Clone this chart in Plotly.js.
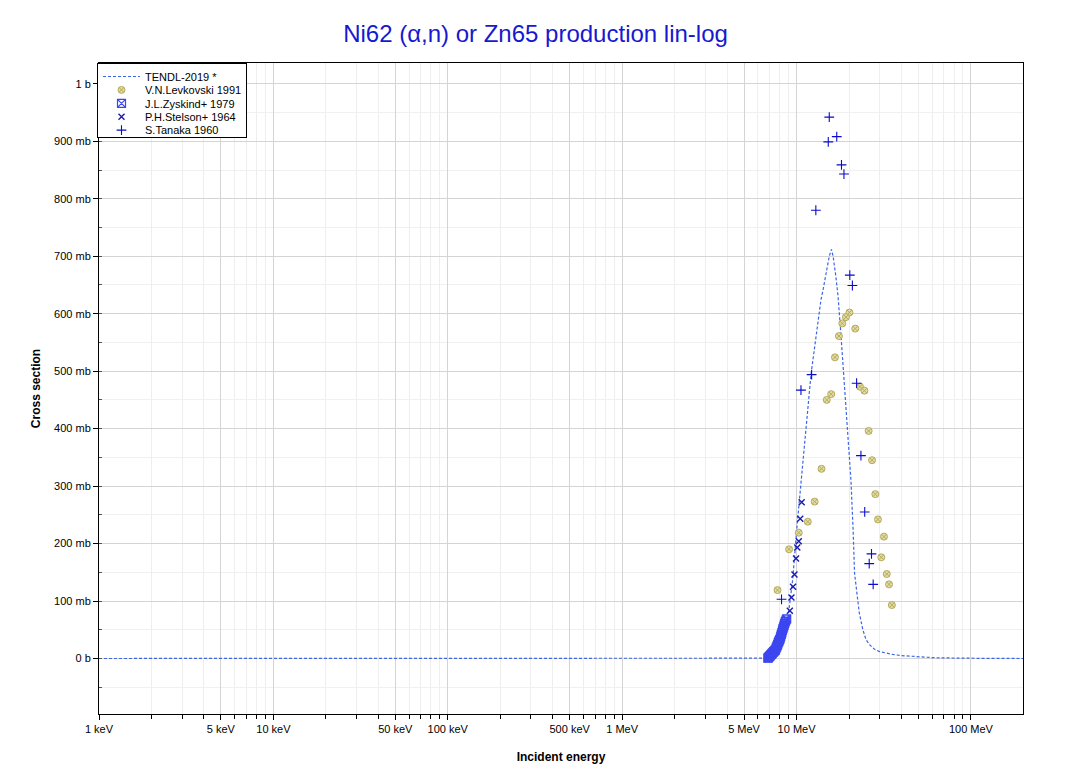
<!DOCTYPE html>
<html>
<head>
<meta charset="utf-8">
<script src="https://cdn.plot.ly/plotly-3.0.1.min.js"></script>
<style>html,body{margin:0;padding:0;background:#fff;}#chart{width:1071px;height:773px;}</style>
</head>
<body>
<div id="chart"></div>
<script>
// Energies in MeV, cross sections in mb
const tendlE = [0.001, 0.01, 0.1, 1, 5, 6.5, 6.7, 7.0, 7.5, 8.0, 8.5, 8.9, 9.5, 10.1, 10.6, 11.4, 12.1, 13.0, 13.8, 14.2, 14.9, 15.4, 15.85, 16.2, 16.8, 17.3, 18.0, 18.9, 19.8, 20.5, 21.1, 21.5, 22.3, 22.9, 24.0, 25.0, 26.2, 28.0, 29.9, 32.5, 35.6, 40.0, 44.4, 50.7, 60.0, 70.0, 86.0, 120.0, 200.0];
const tendlS = [0, 0, 0, 0, 0, 0, 0.5, 3, 10, 22, 45, 68, 137, 236, 305, 410, 494, 565, 624, 642, 677, 700, 712, 700, 665, 630, 560, 468, 380, 311, 224, 149, 108, 79, 50, 33, 24, 16, 12, 9, 7, 5, 4, 2.3, 1.5, 1.0, 0.5, 0.2, 0];

const levE = [20.1, 19.2, 18.3, 21.7, 17.5, 16.6, 15.8, 14.9, 23.1, 24.5, 25.9, 27.1, 13.9, 28.3, 12.7, 29.3, 11.6, 31.7, 10.3, 9.06, 30.6, 32.9, 33.9, 7.78, 35.2];
const levS = [602, 594, 583, 574, 561, 524, 460, 450, 473, 466, 396, 345, 330, 286, 273, 242, 238, 212, 219, 190, 176, 147, 129, 119, 93];

const zysE = [6.85, 6.88, 6.92, 6.96, 7.01, 7.05, 7.10, 7.16, 7.20, 7.25, 7.30, 7.36, 7.41, 7.46, 7.52, 7.57, 7.63, 7.68, 7.73, 7.79, 7.84, 7.90, 7.95, 8.01, 8.07, 8.12, 8.18, 8.24, 8.30, 8.36, 8.42, 8.49, 8.55, 8.62, 8.70, 8.78];
const zysS = [0.5, 1, 2, 3, 3.5, 5, 6, 7, 7.5, 9, 10, 11, 12, 13, 14, 15, 18, 20, 22, 24, 27, 29, 31, 33, 36, 39, 42, 45, 49, 52, 55, 58, 61, 64, 67, 69];

const steE = [10.7, 10.5, 10.3, 10.1, 9.93, 9.73, 9.55, 9.35, 9.15];
const steS = [272, 243, 204, 193, 174, 146, 125, 106, 83];

const tanE = [15.4, 17.0, 15.2, 18.1, 18.7, 12.9, 20.2, 20.9, 12.2, 10.6, 22.1, 23.4, 24.6, 26.9, 26.1, 27.5, 8.2];
const tanS = [942, 908, 899, 859, 843, 780, 667, 649, 494, 467, 479, 353, 255, 182, 165, 129, 103];

const xMajorVals = [0.001, 0.005, 0.01, 0.05, 0.1, 0.5, 1, 5, 10, 100];
const xMajorText = ['1 keV', '5 keV', '10 keV', '50 keV', '100 keV', '500 keV', '1 MeV', '5 MeV', '10 MeV', '100 MeV'];
const xMinorVals = [0.002,0.003,0.004,0.006,0.007,0.008,0.009,
                    0.02,0.03,0.04,0.06,0.07,0.08,0.09,
                    0.2,0.3,0.4,0.6,0.7,0.8,0.9,
                    2,3,4,6,7,8,9,
                    20,30,40,50,60,70,80,90,200];
const yTickVals = [0, 100, 200, 300, 400, 500, 600, 700, 800, 900, 1000];
const yTickText = ['0 b', '100 mb', '200 mb', '300 mb', '400 mb', '500 mb', '600 mb', '700 mb', '800 mb', '900 mb', '1 b'];

const traces = [
  {x: tendlE, y: tendlS, mode: 'lines', name: 'TENDL-2019 *',
   line: {color: '#3b66e8', width: 1.2, dash: '3px,2px'}},
  {x: levE, y: levS, mode: 'markers', name: 'V.N.Levkovski 1991',
   marker: {symbol: 'circle-x', size: 7, color: 'rgba(226,218,160,0.95)', line: {color: '#b5ab5c', width: 1}}},
  {x: zysE, y: zysS, mode: 'markers', name: 'J.L.Zyskind+ 1979',
   marker: {symbol: 'square-x-open', size: 8, color: '#3c46f0', line: {width: 1.2}}},
  {x: steE, y: steS, mode: 'markers', name: 'P.H.Stelson+ 1964',
   marker: {symbol: 'x-thin-open', size: 6, color: '#1a1ab4', line: {width: 1.4, color: '#1a1ab4'}}},
  {x: tanE, y: tanS, mode: 'markers', name: 'S.Tanaka 1960',
   marker: {symbol: 'cross-thin-open', size: 7, color: '#0a0ac8', line: {width: 1.1, color: '#0a0ac8'}}}
];

const font = 'Arial, "Liberation Sans", sans-serif';
const layout = {
  width: 1071, height: 773,
  margin: {l: 99, r: 48, t: 63, b: 59},
  paper_bgcolor: '#ffffff', plot_bgcolor: '#ffffff',
  font: {family: font, size: 11, color: '#000'},
  title: {text: 'Ni62 (α,n) or Zn65 production lin-log', font: {family: font, size: 24, color: '#1818d0'},
          x: 0.5, xref: 'container', xanchor: 'center', y: 0.957, yref: 'container', yanchor: 'middle'},
  showlegend: true,
  legend: {x: 0, y: 1, xanchor: 'left', yanchor: 'top', bgcolor: '#ffffff', bordercolor: '#000', borderwidth: 1,
           font: {family: font, size: 11}, tracegroupgap: 0, itemwidth: 37},
  xaxis: {
    type: 'log', range: [-3, 2.2985], autorange: false,
    tickmode: 'array', tickvals: xMajorVals, ticktext: xMajorText,
    ticks: 'outside', ticklen: 5, tickcolor: '#000', tickfont: {size: 11},
    showgrid: true, gridcolor: '#d4d4d4', gridwidth: 1,
    minor: {tickmode: 'array', tickvals: xMinorVals, ticks: 'outside', ticklen: 4, tickcolor: '#000', showgrid: true, gridcolor: '#eeeeee'},
    showline: true, linecolor: '#000', linewidth: 1, mirror: true, zeroline: false,
    title: {text: 'Incident energy', font: {family: font, size: 12, weight: 'bold'}, standoff: 18}
  },
  yaxis: {
    range: [-96.6, 1036.2], autorange: false,
    tickmode: 'array', tickvals: yTickVals, ticktext: yTickText,
    ticks: 'outside', ticklen: 5, tickcolor: '#000', tickfont: {size: 11},
    showgrid: true, gridcolor: '#d4d4d4', gridwidth: 1,
    minor: {dtick: 50, ticks: 'inside', ticklen: 3, tickcolor: '#555', showgrid: true, gridcolor: '#f0f0f0'},
    showline: true, linecolor: '#000', linewidth: 1, mirror: true, zeroline: false,
    title: {text: 'Cross section', font: {family: font, size: 12, weight: 'bold'}, standoff: 10}
  }
};

Plotly.newPlot('chart', traces, layout, {displayModeBar: false, staticPlot: true}).then(function (gd) {
  // compact the legend rows to the tighter spacing of the reference
  const leg = gd.querySelector('.legend');
  if (!leg) return;
  const items = leg.querySelectorAll('g.traces');
  const spacing = 13.4;
  let y0 = null;
  items.forEach(function (g, i) {
    const m = /translate\(([-\d.]+),\s*([-\d.]+)\)/.exec(g.getAttribute('transform') || '');
    if (!m) return;
    if (y0 === null) y0 = parseFloat(m[2]) - 2;
    g.setAttribute('transform', 'translate(' + m[1] + ',' + (y0 + i * spacing) + ')');
  });
  const h = items.length * spacing + 7;
  const bg = leg.querySelector('rect.bg');
  if (bg) { bg.setAttribute('height', h); bg.setAttribute('width', 149); }
  leg.querySelectorAll('clipPath rect').forEach(function (r) { r.setAttribute('height', h); r.setAttribute('width', 149); });
  const lt = leg.getAttribute('transform');
  const mm = /translate\(([-\d.]+),\s*([-\d.]+)\)/.exec(lt || '');
  if (mm) leg.setAttribute('transform', 'translate(' + (parseFloat(mm[1]) - 2) + ',' + mm[2] + ')');
});
</script>
</body>
</html>
